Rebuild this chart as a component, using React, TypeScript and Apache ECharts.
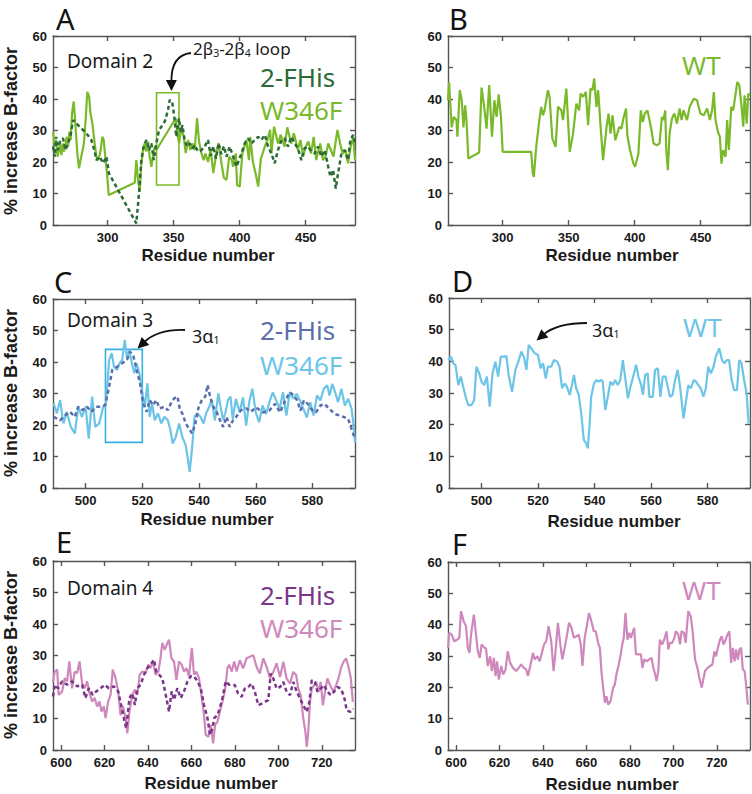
import React, { useEffect, useRef } from "react";
import * as echarts from "echarts";

// ---------- DATA ----------
// Domain 2 (panel A / B)
const d2W346F: [number, number][] = [
  [258.6, 29.6], [260, 24.9], [261, 27], [262, 21.7], [264, 25.4], [265, 22.2], [266, 25.9], [267, 23.3], [269, 28], [270, 24.9],
  [271, 29.6], [272, 27], [273, 35.4], [274.3, 39.2], [275.5, 32.3], [277, 22.8], [278.3, 18], [280, 21.7], [282, 25.9], [283.3, 33.3],
  [284.6, 42.3], [286, 40.7], [287, 35.4], [288.4, 32.3], [290, 26.5], [291.4, 21.7], [293, 20.6], [294.5, 23.3], [296, 28], [297, 27],
  [298.2, 21.7], [299.5, 16.4], [300.8, 9.5], [320.5, 13.4], [321.7, 20.6], [323, 14.3], [324.3, 10.6], [325.5, 19.6], [326.8, 23.8],
  [328, 25.9], [329.3, 23.3], [330.6, 26.5], [331.8, 21.7], [333.1, 18.5], [334.4, 22.2], [335.6, 24.9], [336.9, 23.8], [351.5, 33.9],
  [352.8, 29.1], [354, 25.9], [355.8, 30.7], [357.6, 28], [359.1, 22.8], [360.9, 27], [362.6, 23.8], [364.2, 25.9], [365.9, 23.8],
  [367.7, 33.9], [369.2, 26.5], [371, 22.8], [372.7, 20.6], [374, 22.7], [376, 20], [378, 24], [380, 16.5], [382, 22], [384, 26],
  [386, 20], [388, 15], [390, 14.3], [392, 21.7], [394, 20.6], [395, 18.5], [397, 22.7], [398, 12.7], [400, 12.2], [402, 22.7],
  [405, 27], [407, 20.6], [408, 28], [410, 20], [412, 16.4], [414, 12.2], [416, 21], [419, 24.9], [421, 27], [423, 30.2], [424, 22.7],
  [426, 31.2], [429, 25.9], [431, 28.6], [434, 24.9], [436, 31], [439, 25.9], [441, 29.1], [444, 23.8], [446, 27], [448, 21.7],
  [450, 24.9], [452, 26.5], [454, 22.7], [456, 28], [458, 20.6], [459, 22.7], [461, 25.9], [463, 20.6], [465, 21.7], [467, 25.9],
  [469, 23.8], [471, 21.7], [474, 30.2], [476, 25.9], [478, 22.7], [480, 23.8], [482, 19.6], [484, 24.9], [486, 28], [487.3, 20.6],
];
const d2FHis: [number, number][] = [
  [258.6, 24.9], [260, 21.7], [261, 28], [262.4, 23.8], [264.2, 27], [266.2, 27.5], [268, 23.8], [270, 25.9], [271.7, 28], [273.8, 33.3],
  [278.8, 31.2], [283.9, 29.1], [287.6, 27], [290.2, 23.3], [291.4, 20.6], [294, 21.7], [296.5, 19.6], [299, 21.7], [301, 16.4],
  [321.7, 0.5], [323.7, 10], [325.5, 20.6], [327.3, 24.9], [329.3, 27], [331.3, 23.8], [333.1, 25.9], [334.9, 20.6], [336.9, 25.9],
  [338.9, 30.2], [340.7, 31.2], [343.2, 32.8], [345.7, 36.5], [347, 39.7], [348.8, 39.2], [350.3, 34.9], [352, 28], [354, 33.9],
  [355.3, 29.6], [356.6, 31.7], [358.3, 27], [360.1, 24.9], [362.1, 25.9], [364.2, 24.3], [365.9, 25.4], [368.4, 23.3], [371, 23.8],
  [373.5, 24.9], [376, 27], [378, 22], [380, 25], [382, 21], [384, 26], [386, 22.5], [388, 25], [390, 21.7], [392.4, 24.9], [395, 21.7],
  [397.5, 18.5], [401.3, 22.7], [403.8, 25.9], [406.3, 27.5], [408.8, 25.9], [411.4, 27], [413.9, 28], [416.4, 27], [419, 28.6],
  [421.5, 24.9], [424, 22.7], [426.5, 19.6], [429, 23.8], [431.6, 27], [434, 27.5], [436.6, 24.9], [439, 28], [441.7, 25.9],
  [444, 24.3], [446.7, 20.6], [449, 24.3], [451.8, 24.9], [454.3, 23.3], [456.8, 22.7], [459.3, 24.9], [461.9, 21.7], [464.4, 23.8],
  [467, 18.5], [468.7, 15.3], [470.7, 17.5], [472.7, 11.6], [474.5, 16.4], [477, 22.7], [479.5, 23.8], [482, 20.6], [483.8, 27],
  [485.9, 28.6], [487.3, 26],
];
const d2WT: [number, number][] = [
  [258.6, 39.6], [259.4, 45.4], [261.4, 31], [263, 34.3], [265, 33.3], [265.7, 28], [267.5, 42.8], [269, 39.6], [270.3, 31], [271.6, 38],
  [272.6, 33.3], [274, 21.1], [282.2, 23], [284, 43.6], [286, 37.5], [287.8, 30.6], [289.8, 44.4], [291.9, 28], [293.7, 39.6],
  [295.4, 34.3], [297, 41.5], [298.7, 34.3], [300, 23.2], [321.6, 23.2], [322.8, 16.4], [323.6, 15.3], [325.4, 24.8], [327.9, 33.8],
  [329.2, 37.5], [330.5, 34.8], [331.7, 36.4], [333, 39.6], [334.3, 42.8], [335.5, 40.7], [337.6, 27.5], [340.1, 24.8], [341.9, 37.5],
  [344.4, 36.4], [345.7, 33.3], [348.2, 43.3], [350.8, 23.2], [353.3, 29], [355.8, 38.5], [357.9, 36.4], [359, 41.7], [361, 40.7],
  [363, 42.2], [364.7, 31.7], [366.5, 43.3], [368, 42.8], [369.3, 46.5], [371, 37.5], [372.3, 42.8], [374, 32.2], [376, 20.6],
  [378.7, 31.2], [380.2, 35.4], [381.7, 29], [383.2, 34.8], [385.3, 26.9], [386.8, 29], [388.3, 31.2], [390, 30.6], [391.4, 33.8],
  [393.4, 37], [394.4, 28.5], [396.4, 23.8], [399, 19.5], [400.3, 18.5], [402.8, 22.7], [404.6, 36.4], [406.1, 32.7], [407.6, 35.4],
  [409.6, 36.4], [411.2, 33.3], [412.9, 29.6], [414.2, 25.9], [416.8, 25.3], [418.8, 25.9], [420.6, 34.3], [421.8, 33.3],
  [423.1, 36.4], [423.9, 23.8], [425.1, 17.4], [426.4, 29], [428.2, 33.8], [430, 35.4], [432, 32.2], [434, 37], [435.5, 33.3],
  [437, 36.4], [439.6, 33.3], [441.6, 37.5], [444.7, 40.1], [447.2, 39.6], [449.7, 35.4], [452.3, 34.8], [454.8, 37], [456.9, 33.3],
  [458.6, 36.4], [459.9, 42.2], [461.2, 33.3], [463, 29.6], [464.5, 28], [465.7, 19.5], [467, 23.8], [468.8, 21.6], [470, 33.3],
  [471.3, 23.8], [473.1, 37.5], [474.6, 36.4], [476.4, 41.7], [477.7, 45.4], [479.2, 44.4], [480.7, 38.5], [482.2, 31.2],
  [483.2, 41.2], [484.8, 32.2], [486, 41.7], [487.3, 41.2],
];

// Domain 3 (panel C / D)
const d3W346F: [number, number][] = [
  [488.7, 26.9], [489.9, 23.7], [491, 27.9], [492.2, 20.5], [493.3, 24.2], [494.8, 19.4], [496.2, 17.3], [497.4, 25.8], [498.7, 22.6],
  [500, 25.8], [501.1, 15.7], [502.3, 29], [503.4, 19.4], [504.8, 20.5], [506.2, 25.8], [507.1, 26.3], [508.3, 40.7], [509.2, 42.8],
  [510, 38.5], [511.1, 37.5], [512, 39.6], [512.9, 40.7], [513.8, 47], [514.6, 41.2], [515.4, 43.8], [516.3, 39.6], [517.2, 36.4],
  [518, 39.6], [519.2, 35.4], [520, 30], [520.9, 25.8], [521.8, 33.2], [522.6, 22.6], [523.4, 26.9], [524.4, 21.5], [525.5, 23.7],
  [526.7, 20.5], [527.8, 22.6], [529, 21.5], [529.9, 18.4], [530.7, 14.1], [531.8, 16.2], [533, 20.5], [534.1, 16.2], [535.3, 13.6],
  [536.1, 8.8], [536.7, 5.1], [537.6, 13.1], [538.4, 22.6], [539.3, 23.7], [540.5, 22.6], [541.6, 20.5], [542.5, 23.7], [543.6, 25.8],
  [544.5, 27.9], [545.6, 21.5], [546.8, 30], [547.6, 25.8], [548.5, 21.5], [549.4, 24.2], [550.2, 27.9], [551.1, 29], [551.9, 21.9],
  [553, 28.3], [554.3, 24], [555.5, 28.8], [556.6, 19.8], [557.8, 27.8], [558.8, 31.5], [560, 24], [561.2, 20.9], [562.4, 26.2],
  [563.6, 23.5], [564.8, 27.2], [566, 30.4], [567.2, 27.8], [568.4, 25.1], [569.6, 30.4], [570.8, 23], [572, 30.4], [573.2, 28.3],
  [574.4, 29.9], [575.6, 27.8], [576.8, 25.1], [578, 22.4], [579.2, 27.2], [580.4, 23], [581.6, 29.4], [582.8, 27.8], [584, 31.5],
  [585.2, 32.6], [586, 29.4], [587, 33.1], [588, 30.4], [589, 27.2], [590.2, 31.5], [591.4, 26.2], [592.6, 28.3], [593.8, 25.1],
  [594.5, 20], [595, 14.5],
];
const d3FHis: [number, number][] = [
  [488.7, 22.6], [491, 21.5], [492.8, 23.1], [494.5, 24.2], [496.2, 22.6], [497.4, 25.8], [499, 24.7], [500.5, 25.8], [502, 24.2],
  [503.7, 25.8], [505.4, 25.8], [506.9, 26.3], [508.3, 32.2], [509.4, 37.5], [511.1, 38.5], [512.9, 39.6], [514.6, 40.7], [515.7, 43.3],
  [516.9, 41.7], [518, 37.5], [519.2, 33.2], [520.3, 26.9], [521.5, 24.2], [522.6, 27.9], [523.8, 26.3], [524.9, 27.9], [526.1, 25.3],
  [527.8, 25.8], [529, 24.7], [530.1, 26.9], [531.3, 28.5], [532.4, 29], [533.3, 24.7], [534.1, 23.7], [535.3, 20.5], [536.4, 18.9],
  [537.6, 17.3], [538.7, 20.5], [539.9, 25.8], [541, 27.9], [542.2, 29], [543, 32.7], [543.9, 29], [545, 25.8], [546.2, 24.2],
  [547.4, 21.5], [548.5, 19.4], [549.7, 22.6], [550.8, 19.4], [552, 21.5], [553.1, 22.6], [554.8, 24.7], [556.6, 25.3], [558.3, 24.2],
  [560, 25.6], [562.6, 24], [564.8, 24.6], [566.8, 26.7], [568.6, 24], [570.4, 27.8], [572, 30.4], [573.4, 29.4], [574.6, 27.8],
  [575.8, 24.6], [577, 27.8], [578.4, 26.7], [580, 24.6], [581.2, 24], [582.8, 26.2], [584.2, 26.7], [586, 25.1], [587.8, 23.5],
  [589.6, 23], [591.4, 22.4], [592.6, 21.9], [593.8, 18.7], [595, 15.5],
];
const d3WT: [number, number][] = [
  [488.2, 40.4], [489.2, 41.5], [490, 39.4], [490.8, 38.9], [491.8, 32.5], [492.7, 35.2], [493.5, 32], [494.4, 28.8], [495.3, 26.2],
  [496.5, 26.2], [497.4, 27.8], [498.2, 38.3], [499.2, 36.2], [500, 33.6], [500.9, 32.5], [501.9, 35.2], [502.9, 25.7], [503.9, 36.2],
  [504.9, 39.9], [505.9, 35.2], [506.8, 41.5], [508, 41.5], [508.8, 41.7], [509.6, 35.7], [510.8, 30.4], [512, 37.3], [513.2, 40.4],
  [514.1, 43.1], [515.1, 41], [515.9, 37.3], [516.7, 45.2], [517.6, 44.1], [518.8, 42.6], [520, 42], [520.9, 37.8], [521.8, 39.4],
  [522.7, 34.6], [523.5, 38.3], [524.7, 38.3], [525.6, 40.4], [526.8, 39.9], [527.6, 38.3], [528.5, 31.5], [529.4, 33], [530.2, 32],
  [531.2, 29.4], [532, 32.5], [532.7, 35.7], [533.5, 31.5], [534.4, 29.4], [535.3, 23.5], [536.2, 15.1], [537.1, 14], [537.6, 12.5],
  [538.2, 19.3], [538.8, 28.8], [539.8, 33], [540.6, 34.1], [541.5, 33.6], [542.4, 34.1], [542.9, 33.6], [543.8, 24.6], [544.7, 28.8],
  [545.6, 33.6], [546.5, 32.5], [547.3, 34.1], [548.2, 32.5], [549.1, 34.1], [550, 40.4], [550.8, 35.2], [551.8, 28.3], [552.7, 32],
  [553.5, 34.6], [554.7, 38.9], [555.5, 35.2], [556.5, 32.5], [557.1, 29.4], [557.9, 35.7], [558.8, 36.2], [559.4, 28.8], [560.6, 28.8],
  [561.4, 37.3], [562.4, 37.8], [563.3, 28.8], [564.1, 35.2], [565.1, 35.2], [565.9, 32], [566.7, 28.8], [567.6, 29.4], [568.5, 34.1],
  [569.4, 37.3], [570.2, 32.5], [570.9, 26.7], [571.5, 22], [572.4, 27.8], [573.2, 32.5], [574.1, 31.5], [575.1, 34.1], [575.9, 33.6],
  [576.7, 32.5], [577.6, 31.5], [578.5, 28.8], [579.4, 31.5], [580.2, 38.3], [581.2, 36.2], [582.1, 38.3], [582.9, 41.5], [584.1, 44.1],
  [585.1, 40.4], [585.9, 39.4], [586.8, 40.4], [587.6, 40.4], [588.5, 34.1], [589.4, 30.9], [590.4, 30.9], [591.2, 40.4], [592, 39.4],
  [592.9, 34.1], [593.8, 29.9], [594.5, 20.4],
];

// Domain 4 (panel E / F)
const d4W346F: [number, number][] = [
  [596.3, 21.5], [597.1, 24.9], [598.2, 25.5], [598.9, 17.5], [600.5, 18.6], [601.7, 22.8], [602.8, 21.8], [603.8, 28.1], [605.1, 19.6],
  [606.3, 24.9], [607.4, 24.4], [608.5, 28.1], [609.7, 21.2], [610.9, 19.6], [612, 21.8], [613.1, 18], [614.3, 15.4], [615.5, 16.5],
  [616.6, 13.8], [617.7, 15.4], [618.6, 12.2], [619.7, 13.8], [620.5, 10.1], [621.7, 15.4], [622.8, 17.5], [623.8, 25.5], [625.1, 22.8],
  [626.3, 18.6], [627.4, 11.1], [628.5, 13.8], [629.7, 10.1], [630.5, 5.3], [631.5, 12.2], [632.8, 17.5], [634, 19.1], [635.1, 17.5],
  [636.2, 23.9], [637.4, 24.9], [638.9, 24.4], [640.2, 27.1], [641.2, 26], [642.3, 28.1], [643.5, 23.9], [644.8, 24.9], [645.8, 29.2],
  [646.6, 34], [647.7, 31.8], [648.6, 33.4], [649.7, 35], [650.8, 29.2], [652, 28.1], [653.1, 22.3], [654.3, 28.1], [655.5, 27.1],
  [656.6, 24.9], [657.7, 26], [658.9, 23.4], [660.2, 32.4], [661.2, 23.9], [662.3, 24.9], [663.5, 22.8], [664.8, 16.5], [665.8, 11.1],
  [666.6, 4.8], [667.8, 4.2], [668.9, 8], [670, 2.1], [670.9, 8], [672, 9], [673.1, 12.2], [674.3, 15.4], [675.5, 19.1], [676.6, 26],
  [677.4, 27.1], [678.6, 24.9], [679.7, 28.1], [680.8, 24.9], [682.3, 28.5], [683.8, 25.9], [685.4, 29.1], [686.9, 29.6], [688.5, 30.1],
  [690, 26.4], [691.5, 24.3], [693.1, 29.1], [694.6, 26.4], [696.2, 22.7], [697.7, 24.8], [699.2, 27.5], [700.8, 23.2], [702.3, 28],
  [703.8, 22.7], [705.4, 21.1], [706.9, 24.8], [708.2, 23.8], [709.2, 19.5], [710.3, 17.4], [711.5, 10], [712.5, 5.7], [713.1, 1],
  [713.8, 5.7], [714.6, 15.3], [715.4, 19.5], [716.5, 20.6], [717.4, 21.6], [718.5, 18.5], [719.5, 21.6], [720.5, 14.2], [721.5, 18.5],
  [722.6, 22.7], [723.8, 20.6], [725.4, 18.5], [726.6, 20.6], [727.7, 22.7], [728.8, 25.9], [730, 28], [731.2, 29.1], [732.3, 26.4],
  [733.4, 22.7], [734.3, 15.3],
];
const d4FHis: [number, number][] = [
  [596.3, 17], [597.1, 20.7], [598.6, 19.6], [600.5, 21.8], [602.8, 20.7], [605.1, 21.8], [607.4, 20.2], [609.7, 20.7], [611.2, 16.5],
  [612.8, 19.6], [614.6, 17.5], [616.2, 18.6], [618.2, 19.6], [620.2, 20.7], [622, 19.6], [624.3, 20.2], [626.3, 18.6], [627.8, 13.8],
  [628.9, 10.1], [630, 6.9], [631.5, 16.5], [632.8, 18], [634, 14.3], [635.1, 19.6], [636.6, 20.7], [638.2, 23.9], [639.7, 26],
  [641.2, 27.1], [642.8, 28.7], [643.8, 24.9], [645.1, 23.9], [646.6, 22.8], [648.2, 17.5], [649.7, 12.2], [650.9, 18.6], [652, 15.9],
  [653.5, 19.6], [655.1, 16.5], [656.6, 18.6], [658.2, 21.8], [659.7, 23.4], [661.2, 23.4], [662.8, 21.8], [664.3, 19.6], [665.8, 14.3],
  [667.4, 10.1], [668.6, 4.8], [669.7, 6.9], [670.5, 10.1], [672, 11.1], [673.1, 13.3], [674.3, 16.5], [675.8, 21.8], [677.4, 20.7],
  [680, 20.6], [681.5, 17.9], [683.1, 16.9], [684.6, 19.5], [686.2, 20], [687.7, 21.1], [689.2, 18.5], [690.8, 14.2], [692.3, 14.7],
  [693.8, 15.3], [695.4, 15.8], [696.5, 24.3], [697.7, 22.7], [699.2, 19.5], [700.8, 20], [702.3, 21.6], [703.8, 18.5], [705.4, 17.4],
  [706.9, 21.6], [708.5, 18.5], [710, 16.3], [711.5, 14.2], [713.1, 12.1], [714.3, 15.3], [715.4, 22.2], [716.9, 21.6], [718, 18.5],
  [719.5, 19.5], [721.1, 20.6], [722.6, 18.5], [724.2, 17.4], [725.7, 18.5], [727.2, 20], [728.8, 19.5], [730.3, 16.9], [731.5, 12.6],
  [733.1, 12.1], [734.6, 13.1],
];
const d4WT: [number, number][] = [
  [596.3, 32.6], [596.9, 37.4], [598, 36.8], [599.2, 34.7], [600.5, 35.2], [601.5, 35.8], [602.3, 44.3], [603.5, 41.1], [604.6, 39.5],
  [605.4, 32.6], [606.2, 31], [606.9, 36.8], [608.2, 43.2], [609.2, 36.8], [610, 31.5], [610.9, 29.4], [611.8, 33.7], [613.1, 32.6],
  [613.8, 32.4], [614.6, 26.8], [615.7, 29.9], [616.5, 25.2], [617.4, 29.4], [618.2, 23.6], [618.9, 28.3], [619.7, 22.5], [620.8, 26.8],
  [621.7, 24.1], [622.8, 25.7], [623.8, 31.5], [624.9, 27.8], [626.2, 26.2], [627.7, 25.2], [628.9, 26.2], [630, 27.3], [631.2, 26.2],
  [632.3, 25.7], [633.1, 23.6], [634.3, 27.3], [635.4, 31], [636.2, 28.9], [637.4, 29.9], [638.5, 28.3], [639.5, 31], [640.5, 33.7],
  [641.5, 34.7], [642.6, 39.5], [643.8, 34.7], [644.9, 25.2], [645.8, 31.5], [646.9, 40.6], [648, 33.7], [648.9, 28.9], [650, 32.6],
  [651.1, 36.8], [652, 40.6], [653.1, 39], [654.2, 35.8], [655.4, 36.3], [656.5, 36.8], [657.4, 33.7], [658.2, 26.8], [659.2, 35.8],
  [660.3, 40], [661.2, 43.7], [662.3, 41.1], [663.4, 37.9], [664.3, 37.9], [665.4, 34.2], [666.2, 32.6], [666.9, 25.2], [667.7, 19.9],
  [668.5, 15.1], [669.2, 17.2], [670, 14.5], [671.1, 15.6], [672.3, 19.9], [673.1, 20.9], [673.8, 24.1], [674.9, 27.3], [675.8, 30.5],
  [676.5, 33.7], [677.2, 35.8], [678, 43.7], [678.9, 35.2], [679.7, 37.4], [680.5, 35.8], [681.2, 37.4], [682, 39], [682.8, 30.5],
  [683.8, 30.5], [685.1, 30.5], [685.8, 26.2], [686.6, 28.9], [687.7, 28.3], [688.8, 28.9], [690, 29.4], [690.8, 26.2], [691.5, 24.6],
  [692.3, 22], [693.1, 25.2], [693.8, 35.2], [694.9, 33.7], [695.8, 35.2], [696.9, 37.9], [697.7, 32.1], [698.5, 34.2], [699.5, 34.2],
  [700.5, 35.8], [701.2, 37.9], [702.3, 36.8], [703.1, 33.7], [703.8, 37.9], [704.9, 37.4], [705.7, 34.2], [706.3, 39.5], [706.9, 44.3],
  [708, 42.7], [708.9, 37.9], [710, 28.9], [711.1, 26.2], [712, 23], [713.1, 19.9], [713.8, 22.5], [714.6, 25.2], [715.8, 26.2],
  [716.9, 26.8], [718, 27.3], [718.9, 31.5], [719.7, 29.9], [720.5, 32.6], [721.5, 35.2], [722.3, 36.3], [723.1, 33.7], [723.8, 34.7],
  [724.9, 36.8], [725.8, 37.9], [726.6, 27.8], [727.4, 32.6], [728.2, 28.3], [728.9, 32.1], [729.7, 28.9], [730.5, 32.1], [731.2, 32.6],
  [732, 25.7], [732.8, 25.2], [733.5, 20.9], [734.3, 14.5],
];

// tick values
const xTicksD2 = [300, 350, 400, 450];
const xTicksD3 = [500, 520, 540, 560, 580];
const xTicksD4 = [600, 620, 640, 660, 680, 700, 720];
const xRangeD2: [number, number] = [258.6, 487.3];
const xRangeD3: [number, number] = [488.5, 595];
const xRangeD4: [number, number] = [596.3, 735.3];
const yMin = 0;
const yMax = 60;
const yStep = 10;

// highlighted regions [residue start, value top], [residue end, value bottom]
const loopBox: [number, number][] = [[337, 42], [354, 12.7]];
const helixBox: [number, number][] = [[507, 44], [520, 14.5]];

// ---------- STYLE ----------
const GREEN_L = "#7aba2a";
const GREEN_D = "#2c6b37";
const BLUE_L = "#6cc5e6";
const BLUE_D = "#5b6eab";
const BLUE_BOX = "#38b0de";
const PINK_L = "#cf88bb";
const PURPLE_D = "#7a3789";
const AX = "#555555";
const TXT = "#1a1a1a";
const SANS = "'Noto Sans', 'Open Sans', sans-serif";
const BOLD = "'Liberation Sans', Arial, sans-serif";

const panels = [
  { grid: { left: 53, top: 36, width: 302, height: 189 }, range: xRangeD2, ticks: xTicksD2 },
  { grid: { left: 448, top: 36, width: 302, height: 189 }, range: xRangeD2, ticks: xTicksD2 },
  { grid: { left: 53, top: 299, width: 302, height: 189 }, range: xRangeD3, ticks: xTicksD3 },
  { grid: { left: 449, top: 298, width: 301, height: 190 }, range: xRangeD3, ticks: xTicksD3 },
  { grid: { left: 53, top: 561, width: 302, height: 189 }, range: xRangeD4, ticks: xTicksD4 },
  { grid: { left: 448, top: 562, width: 302, height: 188 }, range: xRangeD4, ticks: xTicksD4 },
];

function buildOption() {
  const xAxis: any[] = [];
  const yAxis: any[] = [];
  panels.forEach((p, i) => {
    const lineStyle = { color: AX, width: 1.4 };
    const base = {
      type: "value",
      gridIndex: i,
      min: p.range[0],
      max: p.range[1],
      splitLine: { show: false },
      axisLine: { show: true, onZero: false, lineStyle },
      axisTick: { show: true, inside: true, length: 5, customValues: p.ticks, lineStyle },
    };
    xAxis.push({
      ...base,
      position: "bottom",
      axisLabel: {
        show: true,
        customValues: p.ticks,
        fontSize: 13,
        fontWeight: "bold",
        fontFamily: BOLD,
        color: TXT,
        margin: 6,
      },
    });
    xAxis.push({ ...base, position: "top", axisLabel: { show: false } });
    const ybase = {
      type: "value",
      gridIndex: i,
      min: yMin,
      max: yMax,
      interval: yStep,
      splitLine: { show: false },
      axisLine: { show: true, onZero: false, lineStyle },
      axisTick: { show: true, inside: true, length: 5, lineStyle },
    };
    yAxis.push({
      ...ybase,
      position: "left",
      axisLabel: { show: true, fontSize: 13, fontWeight: "bold", fontFamily: BOLD, color: TXT, margin: 6 },
    });
    yAxis.push({ ...ybase, position: "right", axisLabel: { show: false } });
  });

  const line = (panel: number, data: [number, number][], color: string, dashed: boolean, z: number, box?: any) => {
    const s: any = {
      type: "line",
      xAxisIndex: panel * 2,
      yAxisIndex: panel * 2,
      data,
      showSymbol: false,
      symbol: "none",
      silent: true,
      z,
      lineStyle: { color, width: dashed ? 2.5 : 2.2, type: dashed ? [4, 3] : "solid" },
    };
    if (box) {
      s.markArea = {
        silent: true,
        itemStyle: { color: "rgba(0,0,0,0)", borderColor: box.color, borderWidth: 1.6 },
        data: [[{ coord: box.coords[0] }, { coord: box.coords[1] }]],
      };
    }
    return s;
  };

  const series = [
    line(0, d2W346F, GREEN_L, false, 2, { color: GREEN_L, coords: loopBox }),
    line(0, d2FHis, GREEN_D, true, 3),
    line(1, d2WT, GREEN_L, false, 2),
    line(2, d3W346F, BLUE_L, false, 2, { color: BLUE_BOX, coords: helixBox }),
    line(2, d3FHis, BLUE_D, true, 3),
    line(3, d3WT, BLUE_L, false, 2),
    line(4, d4W346F, PINK_L, false, 2),
    line(4, d4FHis, PURPLE_D, true, 3),
    line(5, d4WT, PINK_L, false, 2),
  ];

  const txt = (text: string, x: number, y: number, size: number, color: string, extra: any = {}) => ({
    type: "text",
    x,
    y,
    silent: true,
    z: 10,
    style: {
      text,
      fill: color,
      fontSize: size,
      fontFamily: SANS,
      align: "left",
      verticalAlign: "middle",
      ...extra,
    },
  });

  const arrow = (sx: number, sy: number, cx: number, cy: number, tx: number, ty: number) => {
    const dx = tx - cx;
    const dy = ty - cy;
    const len = Math.sqrt(dx * dx + dy * dy);
    const ux = dx / len;
    const uy = dy / len;
    const hl = 11;
    const hw = 5.5;
    const bx = tx - ux * hl;
    const by = ty - uy * hl;
    return [
      {
        type: "bezierCurve",
        silent: true,
        z: 10,
        shape: { x1: sx, y1: sy, cpx1: cx, cpy1: cy, x2: bx + ux * 2, y2: by + uy * 2 },
        style: { stroke: "#111", lineWidth: 1.8, fill: null },
      },
      {
        type: "polygon",
        silent: true,
        z: 10,
        shape: { points: [[tx, ty], [bx - uy * hw, by + ux * hw], [bx + uy * hw, by - ux * hw]] },
        style: { fill: "#111" },
      },
    ];
  };

  const subRich = { s: { fontSize: 10.5, fontFamily: SANS, fill: "#1a1a1a", padding: [8, 0, 0, 0] } };

  const graphic: any[] = [
    // panel letters
    txt("A", 56, 18, 29, "#111"),
    txt("B", 449, 18, 29, "#111"),
    txt("C", 54, 281, 29, "#111"),
    txt("D", 452, 280, 29, "#111"),
    txt("E", 56, 541, 29, "#111"),
    txt("F", 452, 543, 29, "#111"),
    // domain labels
    txt("Domain 2", 67, 61, 19, TXT),
    txt("Domain 3", 67, 320, 19, TXT),
    txt("Domain 4", 67, 588, 19, TXT),
    // legends
    txt("2-FHis", 260, 77, 26, GREEN_D),
    txt("W346F", 260, 110, 26, GREEN_L),
    txt("WT", 682, 65, 26, GREEN_L),
    txt("2-FHis", 260, 330, 26, BLUE_D),
    txt("W346F", 260, 365, 26, BLUE_L),
    txt("WT", 683, 327, 26, BLUE_L),
    txt("2-FHis", 260, 595, 26, PURPLE_D),
    txt("W346F", 260, 628, 26, PINK_L),
    txt("WT", 682, 590, 26, PINK_L),
    // annotations
    txt("2β{s|3}-2β{s|4} loop", 193, 48.5, 17, TXT, { rich: subRich }),
    txt("3α{s|1}", 192, 336, 18, TXT, { rich: subRich }),
    txt("3α{s|1}", 592, 330, 18, TXT, { rich: subRich }),
    ...arrow(191, 53, 171, 55, 171.5, 91),
    ...arrow(185, 330, 158, 329, 137.5, 348.5),
    ...arrow(587, 323, 557, 323, 536.5, 340.5),
  ];

  const xTitles = [
    [208, 255],
    [612, 255],
    [207, 519],
    [614, 521],
    [211, 783],
    [612, 784],
  ];
  xTitles.forEach(([x, y]) =>
    graphic.push({
      type: "text",
      x,
      y,
      silent: true,
      style: {
        text: "Residue number",
        fill: TXT,
        fontSize: 17,
        fontWeight: "bold",
        fontFamily: BOLD,
        align: "center",
        verticalAlign: "middle",
      },
    })
  );
  [131, 393, 655].forEach((y) =>
    graphic.push({
      type: "text",
      x: 11,
      y,
      rotation: Math.PI / 2,
      silent: true,
      style: {
        text: "% increase B-factor",
        fill: TXT,
        fontSize: 18,
        fontWeight: "bold",
        fontFamily: BOLD,
        align: "center",
        verticalAlign: "middle",
      },
    })
  );

  return {
    animation: false,
    backgroundColor: "#ffffff",
    grid: panels.map((p) => ({ ...p.grid, containLabel: false })),
    xAxis,
    yAxis,
    series,
    graphic,
  };
}

export default function App() {
  const ref = useRef<HTMLDivElement>(null);
  useEffect(() => {
    if (!ref.current) return;
    const chart = echarts.init(ref.current, null, { renderer: "svg" });
    chart.setOption(buildOption() as any);
    return () => chart.dispose();
  }, []);
  return <div ref={ref} style={{ position: "absolute", left: 0, top: 0, width: 752, height: 794 }} />;
}
